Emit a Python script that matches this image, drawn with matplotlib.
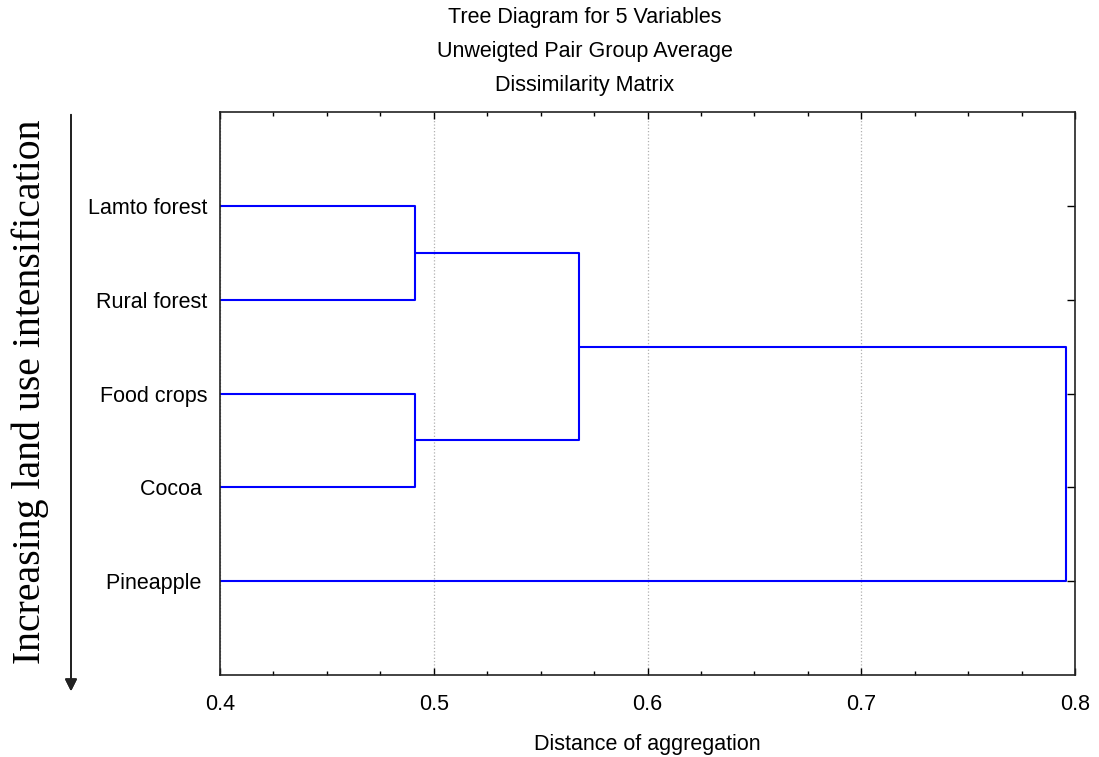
import matplotlib.pyplot as plt
from matplotlib.ticker import MultipleLocator

# ---- data ----
labels = ["Lamto forest", "Rural forest", "Food crops", "Cocoa ", "Pineapple "]
leaf_pos = [1, 2, 3, 4, 5]
d_forest = 0.491   # Lamto + Rural
d_crops = 0.491    # Food crops + Cocoa
d_mid = 0.568      # forests + crops
d_top = 0.796      # all + Pineapple

title_lines = ["Tree Diagram for 5 Variables",
               "Unweigted Pair Group Average",
               "Dissimilarity Matrix"]

plt.rcParams['font.family'] = ['Liberation Sans', 'DejaVu Sans']

fig = plt.figure(figsize=(10.99, 7.57), dpi=100)
ax = fig.add_axes([0.2002, 0.1083, 0.778, 0.7437])

kw = dict(color="#0000ff", linewidth=1.5, solid_capstyle="butt")

def link(ax, y1, x1, y2, x2, h):
    # one U-shaped merge: child 1 out to h, across, back to child 2
    ax.plot([x1, h, h, x2], [y1, y1, y2, y2], **kw)

# leaves start at 0 distance (clipped at axis left)
link(ax, leaf_pos[0], 0.0, leaf_pos[1], 0.0, d_forest)
link(ax, leaf_pos[2], 0.0, leaf_pos[3], 0.0, d_crops)
y_forest = (leaf_pos[0] + leaf_pos[1]) / 2
y_crops = (leaf_pos[2] + leaf_pos[3]) / 2
link(ax, y_forest, d_forest, y_crops, d_crops, d_mid)
y_mid = (y_forest + y_crops) / 2
link(ax, y_mid, d_mid, leaf_pos[4], 0.0, d_top)

ax.set_xlim(0.4, 0.8)
ax.set_ylim(6, 0)
ax.set_yticks(leaf_pos)
ax.set_yticklabels(labels, fontsize=15.5)
ax.set_xticks([0.4, 0.5, 0.6, 0.7, 0.8])
ax.set_xticklabels(["0.4", "0.5", "0.6", "0.7", "0.8"], fontsize=15.5)
ax.xaxis.set_minor_locator(MultipleLocator(0.025))

ax.tick_params(axis="x", which="major", direction="in", length=5, width=1,
               top=True, pad=14)
ax.tick_params(axis="x", which="minor", direction="in", length=3, width=1,
               top=True)
ax.tick_params(axis="y", which="major", direction="in", length=6, width=1,
               left=False, right=True, pad=9)
for s in ax.spines.values():
    s.set_linewidth(1.2)
    s.set_color("#222222")

ax.grid(True, axis="x", which="major", color="#b0b0b0", linestyle=":",
        linewidth=0.9)
ax.set_axisbelow(True)

ax.set_xlabel("Distance of aggregation", fontsize=15.5, labelpad=13)

# three-line title
for i, line in enumerate(title_lines):
    fig.text(585 / 1099, 1 - (18 + 33.5 * i) / 757, line, ha="center",
             va="center", fontsize=15.5)

# arrow and serif label on the left
fig.add_artist(plt.annotate("", xy=(71 / 1099, 1 - 694 / 757),
                            xytext=(71 / 1099, 1 - 112 / 757),
                            xycoords="figure fraction",
                            arrowprops=dict(arrowstyle="-|>", color="#222222",
                                            lw=1.3, mutation_scale=18)))
fig.text(30 / 1099, 1 - 392 / 757, "Increasing land use intensification",
         rotation=90, ha="center", va="center", fontsize=28.6,
         family=["Liberation Serif", "DejaVu Serif"])

fig.savefig("out.png", dpi=100)
